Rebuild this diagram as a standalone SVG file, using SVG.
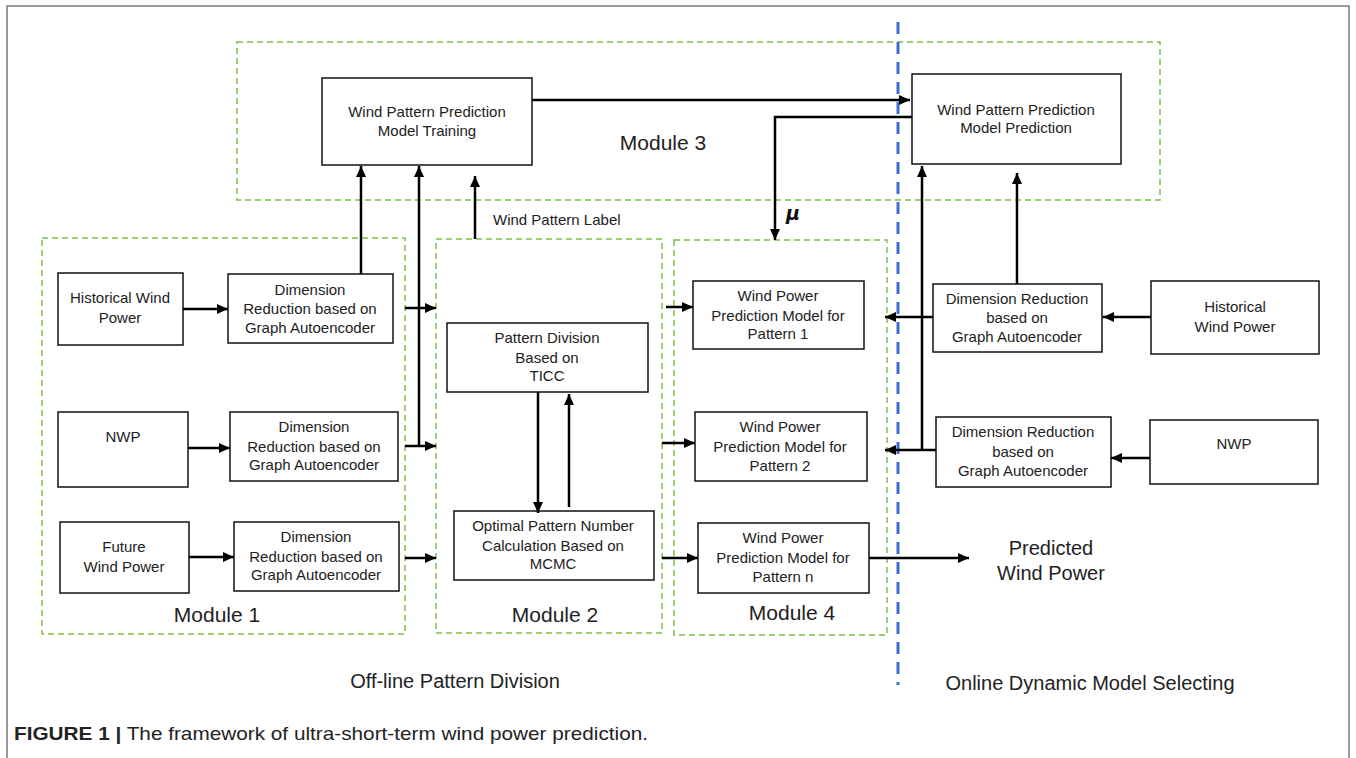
<svg xmlns="http://www.w3.org/2000/svg" width="1356" height="758" viewBox="0 0 1356 758">
<defs>
<marker id="ah" markerUnits="userSpaceOnUse" markerWidth="12" markerHeight="10" refX="11" refY="5" orient="auto">
<path d="M0,0 L11,5 L0,10 Z" fill="#000"/>
</marker>
<style>
.frame{fill:none;stroke:#7a7a7a;stroke-width:1.5}
.mod{fill:none;stroke:#7cc043;stroke-width:1.5;stroke-dasharray:6 4}
.div{fill:none;stroke:#3b6fd4;stroke-width:3;stroke-dasharray:12 8}
.box{fill:#fff;stroke:#111;stroke-width:1.5}
.t{font-family:"Liberation Sans",Arial,sans-serif;font-size:15px;fill:#222;text-anchor:middle}
.ml{font-family:"Liberation Sans",Arial,sans-serif;font-size:21px;fill:#222;text-anchor:middle}
.bl{font-family:"Liberation Sans",Arial,sans-serif;font-size:20px;fill:#222;text-anchor:middle}
.c{fill:none;stroke:#000;stroke-width:2.5}
.a{fill:none;stroke:#000;stroke-width:2.5;marker-end:url(#ah)}
</style>
</defs>
<rect class="frame" x="7" y="6" width="1342" height="780"/>

<g id="modules">
<rect id="module3" class="mod" x="237" y="42" width="923" height="158"/>
<rect id="module1" class="mod" x="42" y="238" width="363" height="396"/>
<rect id="module2" class="mod" x="436" y="239" width="226" height="394"/>
<rect id="module4" class="mod" x="674" y="240" width="213" height="395"/>
<text class="ml" x="663" y="150">Module 3</text>
<text class="ml" x="217" y="622">Module 1</text>
<text class="ml" x="555" y="622">Module 2</text>
<text class="ml" x="792" y="620">Module 4</text>
</g>

<line id="divider" class="div" x1="898" y1="22" x2="898" y2="685"/>

<g id="training">
<rect class="box" x="322" y="78" width="210" height="87"/>
<text class="t" x="427" y="117">Wind Pattern Prediction</text>
<text class="t" x="427" y="136">Model Training</text>
</g>
<g id="prediction">
<rect class="box" x="912" y="74" width="209" height="90"/>
<text class="t" x="1016" y="115">Wind Pattern Prediction</text>
<text class="t" x="1016" y="133">Model Prediction</text>
</g>

<g id="hist1">
<rect class="box" x="58" y="273" width="125" height="72"/>
<text class="t" x="120" y="303">Historical Wind</text>
<text class="t" x="120" y="323">Power</text>
</g>
<g id="dr1">
<rect class="box" x="228" y="274" width="165" height="69"/>
<text class="t" x="310" y="295">Dimension</text>
<text class="t" x="310" y="314">Reduction based on</text>
<text class="t" x="310" y="333">Graph Autoencoder</text>
</g>
<g id="nwp1">
<rect class="box" x="58" y="412" width="130" height="75"/>
<text class="t" x="123" y="442">NWP</text>
</g>
<g id="dr2">
<rect class="box" x="230" y="412" width="168" height="69"/>
<text class="t" x="314" y="432">Dimension</text>
<text class="t" x="314" y="452">Reduction based on</text>
<text class="t" x="314" y="470">Graph Autoencoder</text>
</g>
<g id="future">
<rect class="box" x="60" y="522" width="129" height="71"/>
<text class="t" x="124" y="552">Future</text>
<text class="t" x="124" y="572">Wind Power</text>
</g>
<g id="dr3">
<rect class="box" x="234" y="522" width="165" height="69"/>
<text class="t" x="316" y="542">Dimension</text>
<text class="t" x="316" y="562">Reduction based on</text>
<text class="t" x="316" y="580">Graph Autoencoder</text>
</g>

<g id="ticc">
<rect class="box" x="447" y="323" width="201" height="69"/>
<text class="t" x="547" y="343">Pattern Division</text>
<text class="t" x="547" y="363">Based on</text>
<text class="t" x="547" y="381">TICC</text>
</g>
<g id="mcmc">
<rect class="box" x="454" y="511" width="200" height="69"/>
<text class="t" x="553" y="531">Optimal Pattern Number</text>
<text class="t" x="553" y="551">Calculation Based on</text>
<text class="t" x="553" y="569">MCMC</text>
</g>

<g id="wp1">
<rect class="box" x="693" y="281" width="171" height="68"/>
<text class="t" x="778" y="301">Wind Power</text>
<text class="t" x="778" y="321">Prediction Model for</text>
<text class="t" x="778" y="339">Pattern 1</text>
</g>
<g id="wp2">
<rect class="box" x="695" y="412" width="172" height="69"/>
<text class="t" x="780" y="432">Wind Power</text>
<text class="t" x="780" y="452">Prediction Model for</text>
<text class="t" x="780" y="471">Pattern 2</text>
</g>
<g id="wpn">
<rect class="box" x="698" y="523" width="171" height="70"/>
<text class="t" x="783" y="543">Wind Power</text>
<text class="t" x="783" y="563">Prediction Model for</text>
<text class="t" x="783" y="582">Pattern n</text>
</g>

<g id="drr1">
<rect class="box" x="933" y="284" width="169" height="68"/>
<text class="t" x="1017" y="304">Dimension Reduction</text>
<text class="t" x="1017" y="323">based on</text>
<text class="t" x="1017" y="342">Graph Autoencoder</text>
</g>
<g id="histr">
<rect class="box" x="1151" y="281" width="168" height="73"/>
<text class="t" x="1235" y="312">Historical</text>
<text class="t" x="1235" y="332">Wind Power</text>
</g>
<g id="drr2">
<rect class="box" x="936" y="417" width="175" height="70"/>
<text class="t" x="1023" y="437">Dimension Reduction</text>
<text class="t" x="1023" y="457">based on</text>
<text class="t" x="1023" y="476">Graph Autoencoder</text>
</g>
<g id="nwpr">
<rect class="box" x="1150" y="420" width="168" height="64"/>
<text class="t" x="1234" y="449">NWP</text>
</g>

<g id="connectors">
<line class="a" x1="532" y1="100" x2="910" y2="100"/>
<polyline class="a" points="912,117 775,117 775,240"/>
<line class="a" x1="361" y1="274" x2="361" y2="166"/>
<line class="a" x1="419" y1="447" x2="419" y2="166"/>
<line class="a" x1="475" y1="239" x2="475" y2="176"/>
<line class="a" x1="183" y1="309" x2="228" y2="309"/>
<line class="a" x1="188" y1="448" x2="230" y2="448"/>
<line class="a" x1="189" y1="557" x2="234" y2="557"/>
<line class="a" x1="405" y1="308" x2="436" y2="308"/>
<line class="a" x1="405" y1="446" x2="436" y2="446"/>
<line class="a" x1="405" y1="558" x2="436" y2="558"/>
<line class="a" x1="538" y1="392" x2="538" y2="513"/>
<line class="a" x1="569" y1="507" x2="569" y2="394"/>
<line class="a" x1="666" y1="307" x2="693" y2="307"/>
<line class="a" x1="662" y1="443" x2="695" y2="443"/>
<line class="a" x1="662" y1="558" x2="698" y2="558"/>
<line class="a" x1="869" y1="558" x2="969" y2="558"/>
<line class="a" x1="933" y1="317" x2="885" y2="317"/>
<line class="a" x1="1151" y1="317" x2="1103" y2="317"/>
<line class="a" x1="936" y1="450" x2="885" y2="450"/>
<line class="a" x1="1150" y1="458" x2="1111" y2="458"/>
<line class="a" x1="922" y1="450" x2="922" y2="166"/>
<line class="a" x1="1017" y1="284" x2="1017" y2="173"/>
</g>

<text x="493" y="225" style="font-family:'Liberation Sans',Arial,sans-serif;font-size:15px;fill:#222">Wind Pattern Label</text>
<text x="786" y="220" style="font-family:'DejaVu Sans',sans-serif;font-size:19px;font-weight:bold;font-style:italic;fill:#111">μ</text>
<text class="bl" x="1051" y="555">Predicted</text>
<text class="bl" x="1051" y="580">Wind Power</text>
<text class="bl" x="455" y="688">Off-line Pattern Division</text>
<text class="bl" x="1090" y="690">Online Dynamic Model Selecting</text>
<text x="14" y="740" textLength="634" lengthAdjust="spacingAndGlyphs" style="font-family:'Liberation Sans',Arial,sans-serif;font-size:19px;fill:#222"><tspan font-weight="bold">FIGURE 1 |</tspan> The framework of ultra-short-term wind power prediction.</text>
</svg>
